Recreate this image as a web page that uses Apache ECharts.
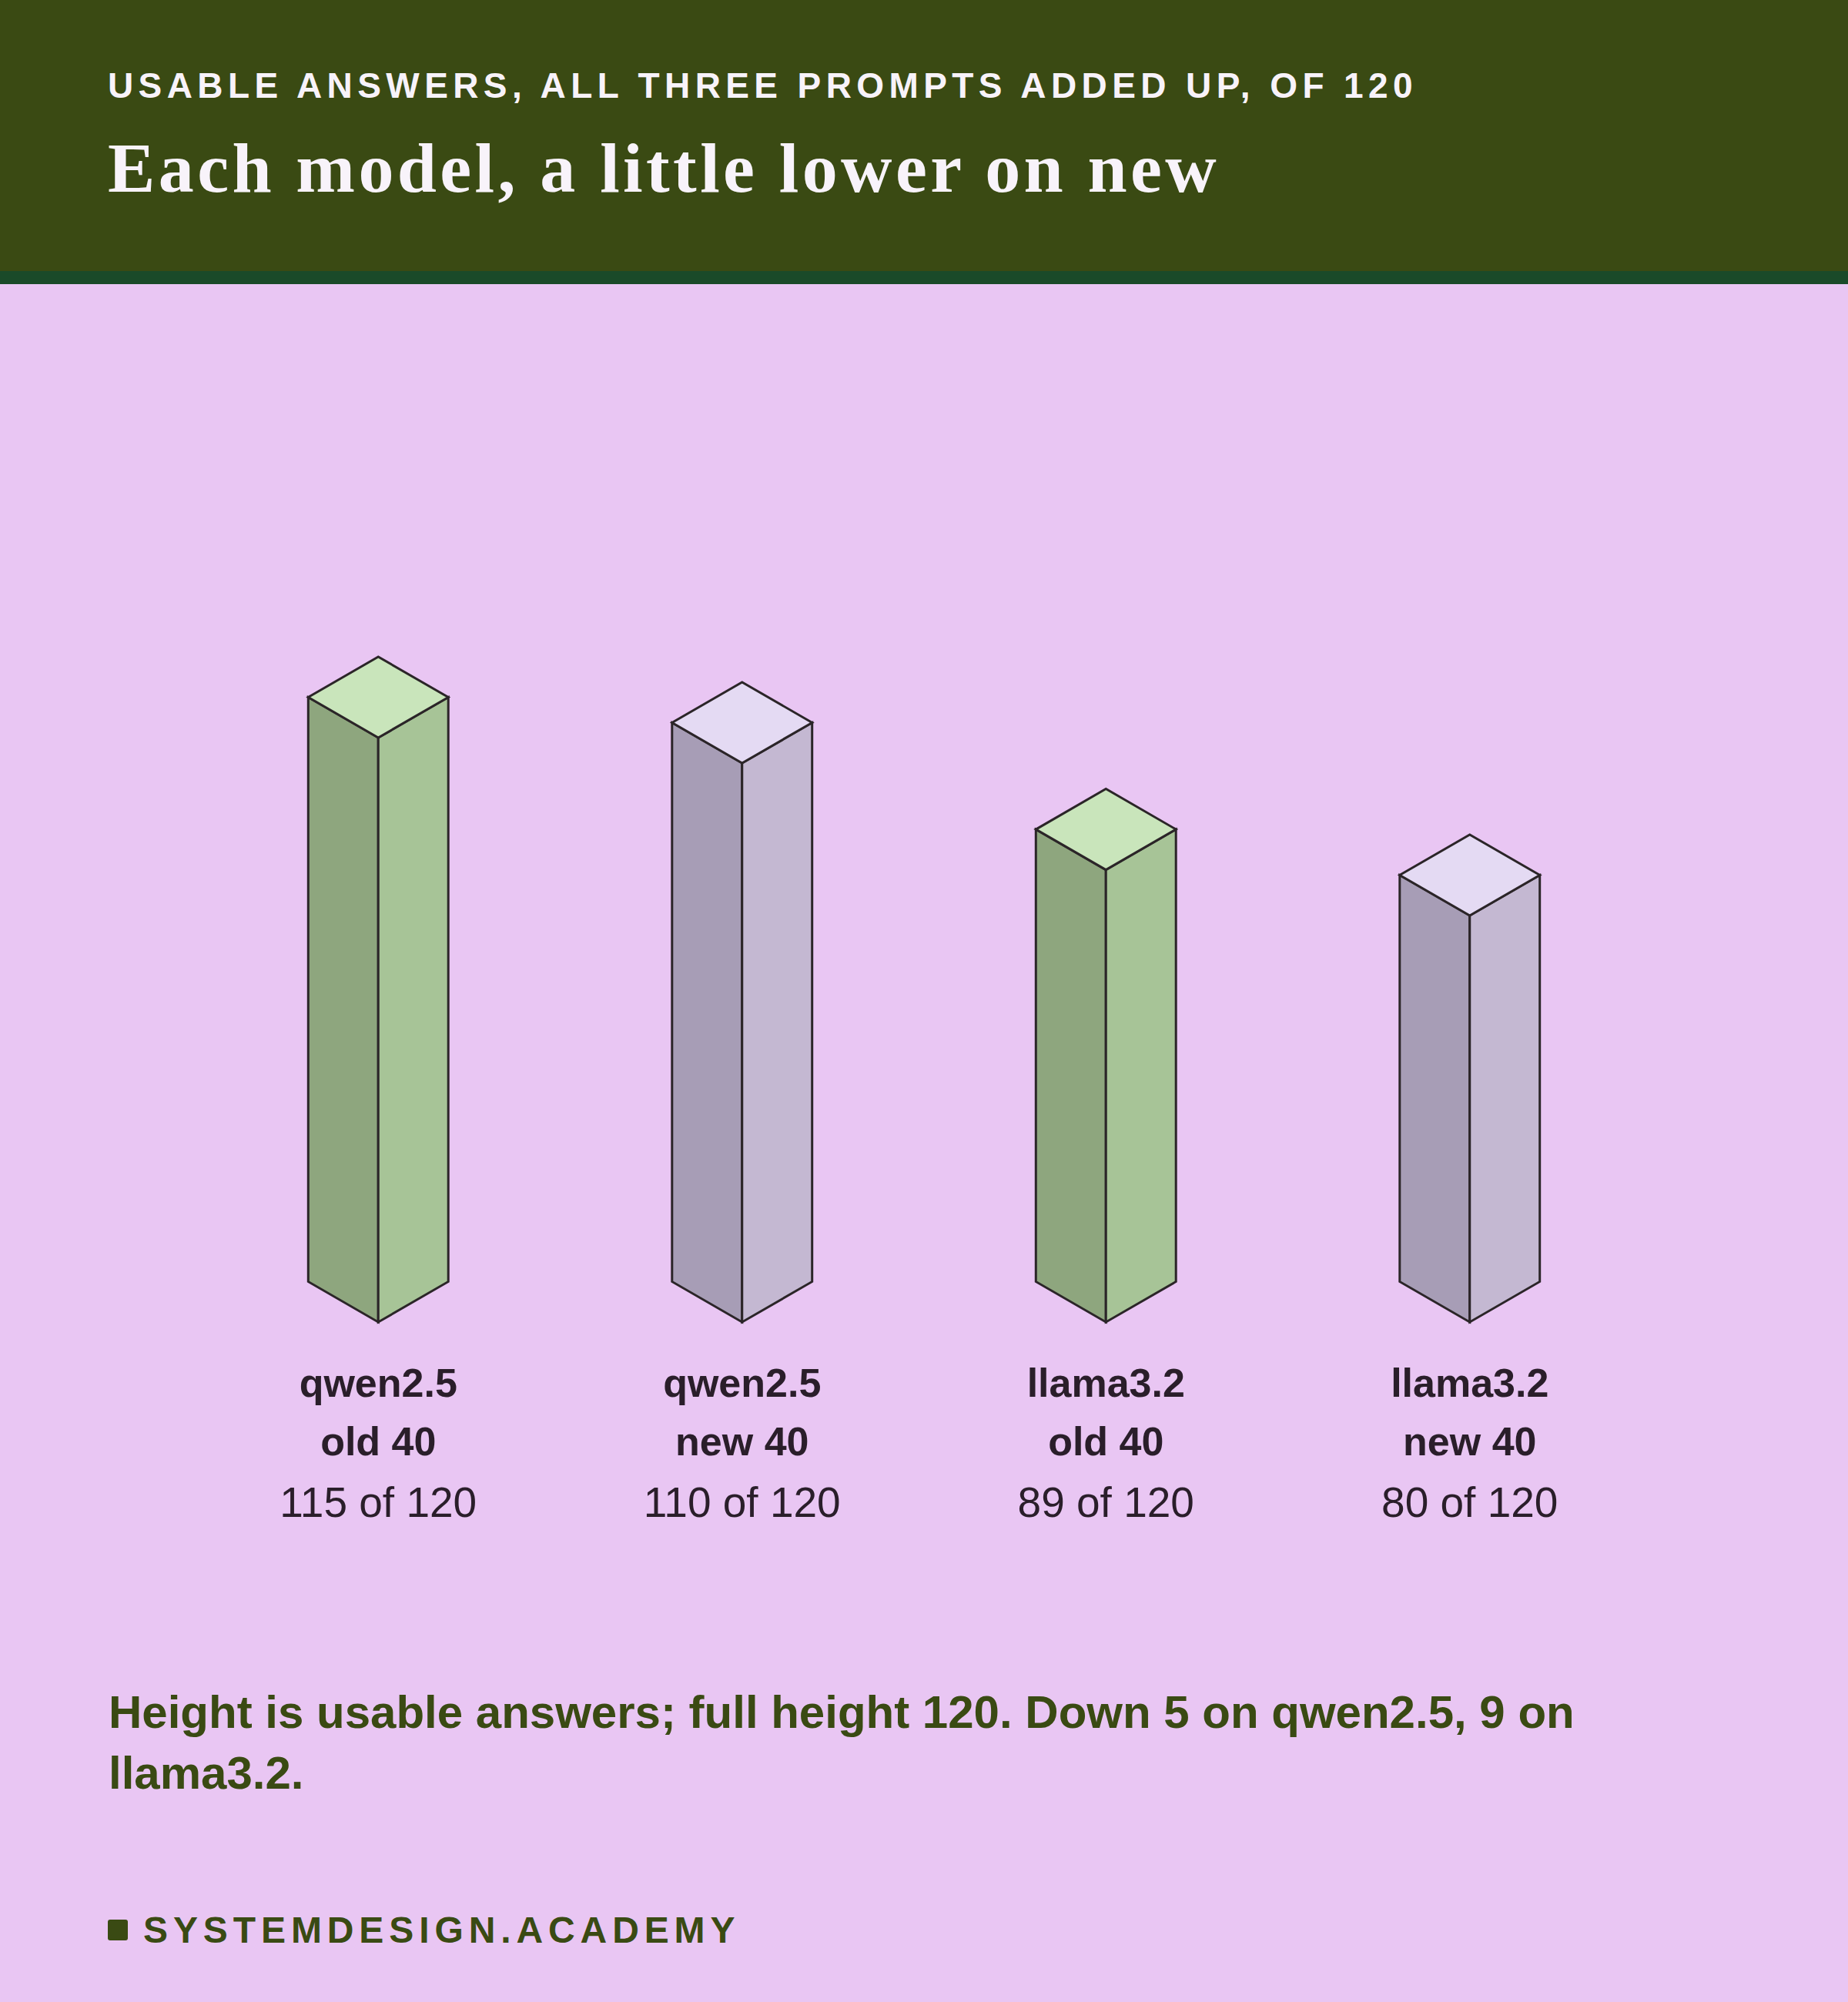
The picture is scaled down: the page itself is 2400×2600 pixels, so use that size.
<!DOCTYPE html>
<html>
<head>
<meta charset="utf-8">
<script src="https://cdn.jsdelivr.net/npm/echarts@6/dist/echarts.min.js"></script>
<style>
html,body{margin:0;padding:0;background:#e9c6f3;}
#chart{width:2400px;height:2600px;}
</style>
</head>
<body>
<div id="chart"></div>
<script>
// ---- data ----
const models = ['qwen2.5', 'qwen2.5', 'llama3.2', 'llama3.2'];
const variants = ['old 40', 'new 40', 'old 40', 'new 40'];
const usable = [115, 110, 89, 80];
const TOTAL = 120;
const subtitleText = 'USABLE ANSWERS, ALL THREE PROMPTS ADDED UP, OF 120';
const titleText = 'Each model, a little lower on new';
const brandText = 'SYSTEMDESIGN.ACADEMY';

// ---- styles ----
const faceColors = {
  old: { left: '#8ea67e', right: '#a7c497', top: '#c9e5bb' },
  new: { left: '#a79db6', right: '#c4b8d2', top: '#e4daf3' }
};
const EDGE = '#2b2528';
const SANS = '"Liberation Sans", Arial, Helvetica, sans-serif';
const SERIF = '"Liberation Serif", "Times New Roman", serif';

const categories = models.map((m, i) => m + ' ' + variants[i]);
const dropQ = usable[0] - usable[1];
const dropL = usable[2] - usable[3];
const noteText = 'Height is usable answers; full height ' + TOTAL + '. Down ' + dropQ + ' on ' + models[0] + ', ' + dropL + ' on\n' + models[2] + '.';

const chart = echarts.init(document.getElementById('chart'), null, { renderer: 'svg', width: 2400, height: 2600 });

function renderBar(params, api) {
  const idx = api.value(0);
  const val = api.value(1);
  const top = api.coord([idx, val]);
  const base = api.coord([idx, 0]);
  const cx = top[0];
  const hw = api.size([1, 0])[0] * 0.1925;
  const hh = hw * Math.tan(Math.PI / 6);
  const c = faceColors[variants[idx].indexOf('old') === 0 ? 'old' : 'new'];
  const st = { stroke: EDGE, lineWidth: 3, lineJoin: 'miter' };
  return {
    type: 'group',
    children: [
      { type: 'polygon', shape: { points: [[cx - hw, top[1] - hh], [cx, top[1]], [cx, base[1]], [cx - hw, base[1] - hh]] },
        style: Object.assign({ fill: c.left }, st) },
      { type: 'polygon', shape: { points: [[cx, top[1]], [cx + hw, top[1] - hh], [cx + hw, base[1] - hh], [cx, base[1]]] },
        style: Object.assign({ fill: c.right }, st) },
      { type: 'polygon', shape: { points: [[cx, top[1]], [cx - hw, top[1] - hh], [cx, top[1] - 2 * hh], [cx + hw, top[1] - hh]] },
        style: Object.assign({ fill: c.top }, st) }
    ]
  };
}

const option = {
  animation: false,
  backgroundColor: '#e9c6f3',
  grid: { left: 255, right: 255, top: 925, bottom: 883, containLabel: false },
  xAxis: {
    type: 'category',
    data: categories,
    boundaryGap: true,
    axisLine: { show: false },
    axisTick: { show: false },
    axisLabel: {
      interval: 0,
      margin: 41,
      formatter: function (v, i) {
        return '{b|' + models[i] + '}\n{b|' + variants[i] + '}\n{r|' + usable[i] + ' of ' + TOTAL + '}';
      },
      rich: {
        b: { fontFamily: SANS, fontSize: 52, fontWeight: 'bold', lineHeight: 76, color: '#2a1e2a' },
        r: { fontFamily: SANS, fontSize: 55, fontWeight: 'normal', lineHeight: 82, color: '#2a1e2a' }
      }
    }
  },
  yAxis: { type: 'value', min: 0, max: TOTAL, show: false, splitLine: { show: false } },
  graphic: [
    { type: 'rect', shape: { x: 0, y: 0, width: 2400, height: 352 }, style: { fill: '#3a4a13' }, z: 0 },
    { type: 'rect', shape: { x: 0, y: 352, width: 2400, height: 17 }, style: { fill: '#1a4a29' }, z: 0 },
    { type: 'text', id: 'subtitle', x: 140, y: 88, style: { text: subtitleText, font: 'bold 46px ' + SANS, fill: '#f8f3fa', textVerticalAlign: 'top' }, z: 2 },
    { type: 'text', id: 'title', x: 140, y: 172, style: { text: titleText, font: 'bold 92px ' + SERIF, fill: '#f8f3fa', textVerticalAlign: 'top' }, z: 2 },
    { type: 'text', id: 'note', x: 141, y: 2184, style: { text: noteText, font: 'bold 60px ' + SANS, fill: '#3a4a13', lineHeight: 79, textVerticalAlign: 'top' }, z: 2 },
    { type: 'rect', shape: { x: 140, y: 2493, width: 26, height: 27, r: 3 }, style: { fill: '#3a4a13' }, z: 2 },
    { type: 'text', id: 'brand', x: 186, y: 2482, style: { text: brandText, font: 'bold 48px ' + SANS, fill: '#3a4a13', textVerticalAlign: 'top' }, z: 2 }
  ],
  series: [{
    type: 'custom',
    renderItem: renderBar,
    data: usable.map((v, i) => [i, v]),
    encode: { x: 0, y: 1 },
    clip: false
  }]
};
chart.setOption(option);

function applySpacing() {
  const texts = document.querySelectorAll('#chart svg text');
  texts.forEach(t => {
    const s = t.textContent;
    if (s === subtitleText) t.setAttribute('letter-spacing', '6.4');
    if (s === titleText) t.setAttribute('letter-spacing', '4.4');
    if (s === brandText) t.setAttribute('letter-spacing', '6.9');
  });
}
applySpacing();
chart.on('finished', applySpacing);
</script>
</body>
</html>
